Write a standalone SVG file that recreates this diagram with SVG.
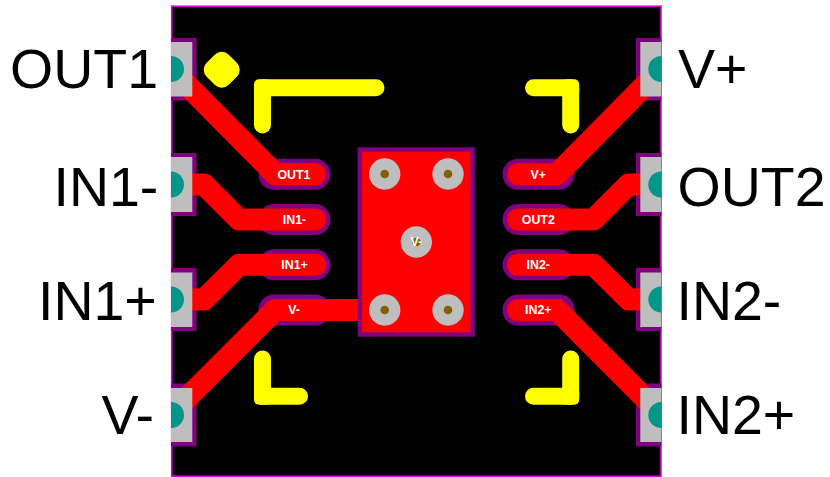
<svg xmlns="http://www.w3.org/2000/svg" width="830" height="477" viewBox="0 0 830 477">
<defs>
<style>
.pin{font:55.5px "Liberation Sans",Arial,sans-serif;fill:#000}
.lab{font:bold 12.4px "Liberation Sans",Arial,sans-serif;fill:#fff;text-anchor:middle}
.halo{fill:none;stroke:#800080;stroke-width:31;stroke-linecap:round}
.tr{fill:none;stroke:#f00;stroke-width:22;stroke-linecap:round;stroke-linejoin:round}
.trb{fill:none;stroke:#f00;stroke-width:22;stroke-linecap:butt;stroke-linejoin:round}
.silk{fill:none;stroke:#ff0;stroke-width:17;stroke-linecap:round;stroke-linejoin:round}
.sc{fill:#ff0}
.pf{fill:#800080}
.pg{fill:#bebebe}
.ph{fill:#009688}
.v{fill:#bebebe}
.vh{fill:#806000}
</style>
<clipPath id="bd"><rect x="171" y="0" width="490.500" height="477"/></clipPath>
</defs>
<rect id="board" x="171.700" y="6.200" width="489.300" height="470" fill="#000" stroke="#e000e0" stroke-width="1.600"/>
<g id="silkscreen">
<path class="silk" d="M376 87.800H262.500V125"/>
<path class="silk" d="M262.500 359V396.300H299.500"/>
<path class="silk" d="M533.500 87.800H570.700V125"/>
<path class="silk" d="M570.700 359V396.300H533.500"/>
<rect class="sc" x="254" y="79.300" width="17" height="17" rx="5"/>
<rect class="sc" x="254" y="387.800" width="17" height="17" rx="5"/>
<rect class="sc" x="562.200" y="79.300" width="17" height="17" rx="5"/>
<rect class="sc" x="562.200" y="387.800" width="17" height="17" rx="5"/>
<path d="M221.700 61.700L229.700 69.700L221.700 77.700L213.700 69.700Z" fill="#ff0" stroke="#ff0" stroke-width="20" stroke-linejoin="round"/>
</g>
<g id="halos" clip-path="url(#bd)">
<rect class="pf" x="171" y="38" width="25.500" height="62.500"/>
<rect class="pf" x="171" y="153" width="25.500" height="63"/>
<rect class="pf" x="171" y="268" width="25.500" height="63"/>
<rect class="pf" x="171" y="383.500" width="25.500" height="63"/>
<rect class="pf" x="636" y="38" width="25.500" height="62.500"/>
<rect class="pf" x="636" y="153" width="25.500" height="63"/>
<rect class="pf" x="636" y="268" width="25.500" height="63"/>
<rect class="pf" x="636" y="383.500" width="25.500" height="63"/>
<path class="halo" d="M274 174.300H315M274 219.500H315M274 264.800H315M274 310H315"/>
<path class="halo" d="M518 174.300H559M518 219.500H559M518 264.800H559M518 310H559"/>
</g>
<g id="connectors" clip-path="url(#bd)">
<path class="trb" d="M171 69L275.500 174.300H315"/>
<path class="tr" d="M275.500 174.300H315"/>
<path class="tr" d="M185 184.500H204L239 219.500H315"/>
<path class="tr" d="M185 299.500H204L239 264.800H315"/>
<path class="trb" d="M171 414L275 310H384"/>
<path class="tr" d="M275 310H315"/>
<path class="tr" d="M518 174.300H557L661 69"/>
<path class="tr" d="M518 219.500H593.600L628.600 184.500H650"/>
<path class="tr" d="M518 264.800H593.600L628.600 299.500H650"/>
<path class="tr" d="M518 310H557L661 414.500"/>
</g>
<g id="pad1"><rect class="pg" x="171" y="42" width="21.300" height="54.500"/><path class="ph" d="M171 56A13 13 0 0 1 171 82Z"/></g>
<g id="pad2"><rect class="pg" x="171" y="157" width="21.300" height="55"/><path class="ph" d="M171 171.500A13 13 0 0 1 171 197.500Z"/></g>
<g id="pad3"><rect class="pg" x="171" y="272.500" width="21.300" height="54.500"/><path class="ph" d="M171 286.500A13 13 0 0 1 171 312.500Z"/></g>
<g id="pad4"><rect class="pg" x="171" y="388" width="21.300" height="54"/><path class="ph" d="M171 402A13 13 0 0 1 171 428Z"/></g>
<g id="pad8"><rect class="pg" x="640.300" y="42" width="21" height="54.500"/><path class="ph" d="M661.300 56A13 13 0 0 0 661.300 82Z"/></g>
<g id="pad7"><rect class="pg" x="640.300" y="157" width="21" height="55"/><path class="ph" d="M661.300 171.500A13 13 0 0 0 661.300 197.500Z"/></g>
<g id="pad6"><rect class="pg" x="640.300" y="272.500" width="21" height="54.500"/><path class="ph" d="M661.300 286.500A13 13 0 0 0 661.300 312.500Z"/></g>
<g id="pad5"><rect class="pg" x="640.300" y="388" width="21" height="54"/><path class="ph" d="M661.300 402A13 13 0 0 0 661.300 428Z"/></g>
<g id="thermal">
<rect x="359.800" y="149.500" width="112.800" height="185" fill="#f00" stroke="#800080" stroke-width="4.400"/>
<circle class="v" cx="384.700" cy="174" r="15.700"/><circle class="vh" cx="384.700" cy="174" r="4.300"/>
<circle class="v" cx="448" cy="174" r="15.700"/><circle class="vh" cx="448" cy="174" r="4.300"/>
<circle class="v" cx="416.300" cy="242" r="15.700"/><circle class="vh" cx="416.300" cy="242" r="4.300"/>
<circle class="v" cx="384.700" cy="310" r="15.700"/><circle class="vh" cx="384.700" cy="310" r="4.300"/>
<circle class="v" cx="448" cy="310" r="15.700"/><circle class="vh" cx="448" cy="310" r="4.300"/>
<text class="lab" x="416.300" y="246.300">V-</text>
</g>
<g id="pad-labels">
<text class="lab" x="294" y="178.500">OUT1</text>
<text class="lab" x="294.500" y="223.700">IN1-</text>
<text class="lab" x="294.500" y="268.800">IN1+</text>
<text class="lab" x="294" y="314.300">V-</text>
<text class="lab" x="538.300" y="178.500">V+</text>
<text class="lab" x="538.300" y="223.700">OUT2</text>
<text class="lab" x="538.300" y="268.800">IN2-</text>
<text class="lab" x="538.300" y="314.300">IN2+</text>
</g>
<g id="pin-labels">
<text class="pin" x="10" y="87.500">OUT1</text>
<text class="pin" x="53.500" y="205.500">IN1-</text>
<text class="pin" x="38" y="320">IN1+</text>
<text class="pin" x="101.500" y="434">V-</text>
<text class="pin" x="678" y="87.500">V+</text>
<text class="pin" x="677.500" y="205.500">OUT2</text>
<text class="pin" x="676.500" y="320">IN2-</text>
<text class="pin" x="676.500" y="434">IN2+</text>
</g>
</svg>
